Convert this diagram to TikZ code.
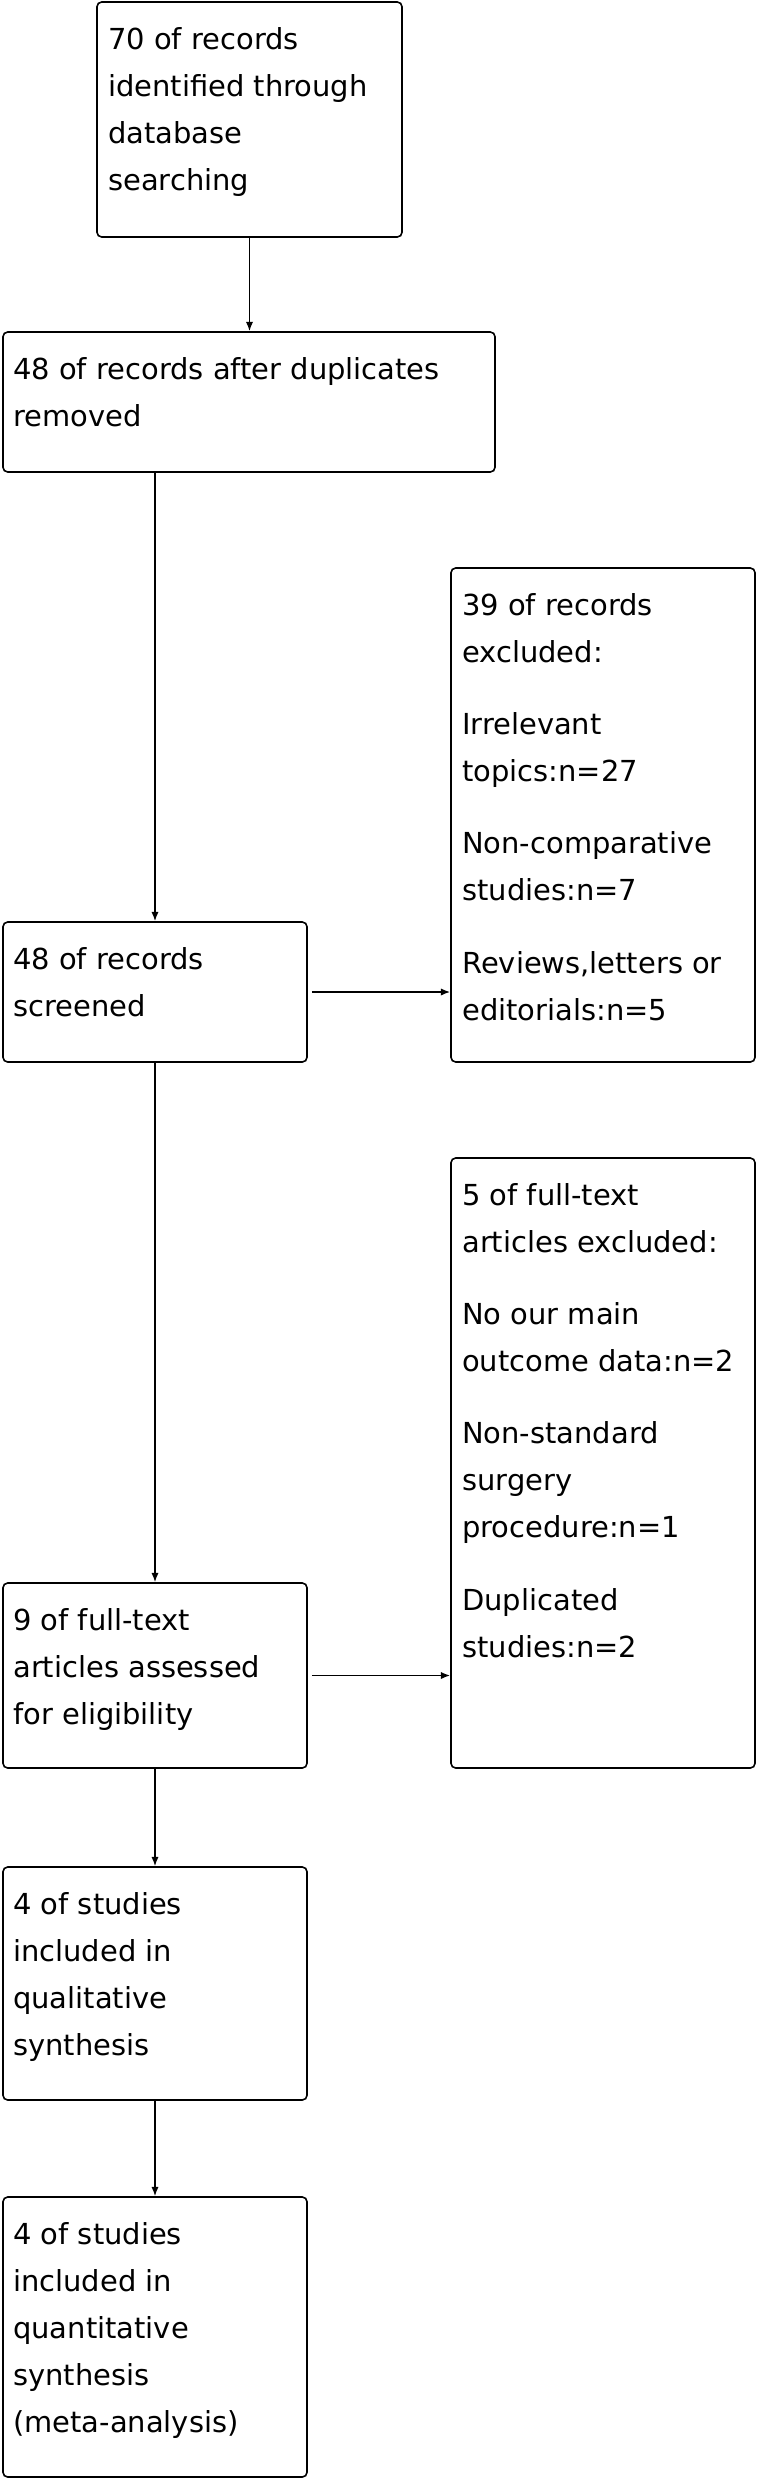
\documentclass[tikz,border=0pt]{standalone}
\usepackage{fontspec}
\setmainfont{DejaVu Sans}
\usetikzlibrary{fit,arrows.meta}

\tikzset{
  box/.style={draw, line width=1.2pt, rounded corners=3.5pt, inner sep=0pt},
  txt/.style={anchor=north west, inner sep=0pt, align=left,
    font=\fontsize{21.7}{35.25}\selectfont, execute at begin node=\strut},
  flow/.style={line width=1.2pt, -{Latex[length=7pt,width=5.5pt]}},
}

\begin{document}
\begin{tikzpicture}[x=0.75pt,y=0.75pt,yscale=-1,xscale=1]
\useasboundingbox (0,0) rectangle (758,2481);

%Shape: Rectangle
\node[box, fit={(97,2) (402,237)}] (ident) {};
%Shape: Rectangle
\node[box, fit={(3,332) (495,472)}] (dedup) {};
%Shape: Rectangle
\node[box, fit={(3,922) (307,1062)}] (screen) {};
%Shape: Rectangle
\node[box, fit={(451,568) (755,1062)}] (excl) {};
%Shape: Rectangle
\node[box, fit={(451,1158) (755,1768)}] (fexcl) {};
%Shape: Rectangle
\node[box, fit={(3,1583) (307,1768)}] (elig) {};
%Shape: Rectangle
\node[box, fit={(3,1867) (307,2100)}] (qual) {};
%Shape: Rectangle
\node[box, fit={(3,2197) (307,2477)}] (quant) {};

%Straight Lines
\draw[flow] (ident.south) -- (ident.south |- dedup.north);
\draw[flow] (screen.north |- dedup.south) -- (screen.north);
\draw[flow, shorten <=3pt] (screen.east) -- (screen.east -| excl.west);
\draw[flow] (screen.south) -- (elig.north);
\draw[flow, shorten <=3pt] (elig.east) -- (elig.east -| fexcl.west);
\draw[flow] (elig.south) -- (qual.north);
\draw[flow] (qual.south) -- (quant.north);

% Text Node
\node[txt] (identtxt) at (108,27) {70 of records\\identified through\\database\\searching};
% Text Node
\node[txt] (deduptxt) at (13,357) {48 of records after duplicates\\removed};
% Text Node
\node[txt] (screentxt) at (13,947) {48 of records\\screened};
% Text Node
\node[txt] (excltxt) at (462,593) {39 of records\\excluded:\\[19pt]Irrelevant\\topics:n=27\\[19pt]Non-comparative\\studies:n=7\\[19pt]Reviews,letters or\\editorials:n=5};
% Text Node
\node[txt] (fexcltxt) at (462,1183) {5 of full-text\\articles excluded:\\[19pt]No our main\\outcome data:n=2\\[19pt]Non-standard\\surgery\\procedure:n=1\\[19pt]Duplicated\\studies:n=2};
% Text Node
\node[txt] (eligtxt) at (13,1608) {9 of full-text\\articles assessed\\for eligibility};
% Text Node
\node[txt] (qualtxt) at (13,1892) {4 of studies\\included in\\qualitative\\synthesis};
% Text Node
\node[txt] (quanttxt) at (13,2222) {4 of studies\\included in\\quantitative\\synthesis\\(meta-analysis)};

\end{tikzpicture}
\end{document}
